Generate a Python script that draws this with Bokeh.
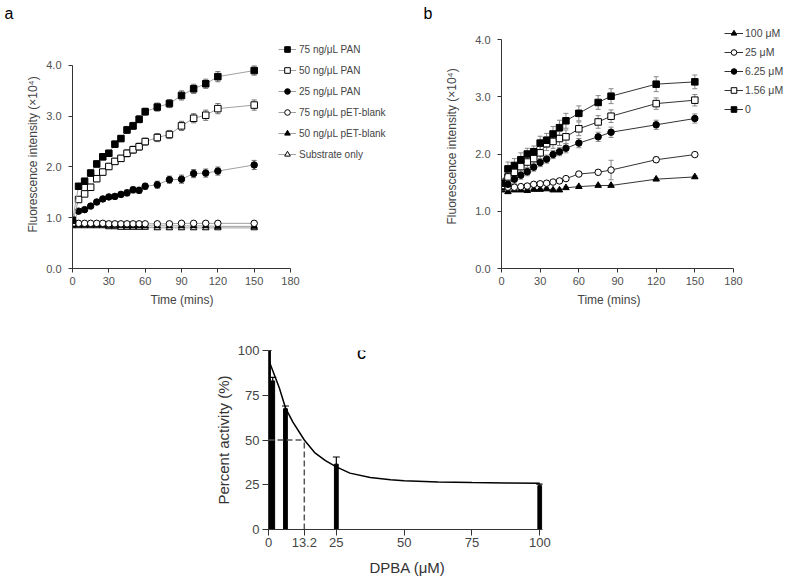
import math
from bokeh.plotting import figure
from bokeh.models import (ColumnDataSource, Whisker, TeeHead, Legend, LegendItem,
                          Label, FixedTicker, PrintfTickFormatter, Range1d, Title)
from bokeh.layouts import row, column
from bokeh.embed import file_html
from bokeh.resources import INLINE

FONT = "Liberation Sans"

# ---------------- Panel a data ----------------
time_a = [0, 5, 10, 15, 20, 25, 30, 35, 40, 45, 50, 55, 60, 70, 80, 90, 100, 110, 120, 150]
pan75 = [0.95, 1.62, 1.72, 1.88, 2.06, 2.20, 2.27, 2.45, 2.56, 2.73, 2.81, 2.94, 3.09, 3.18, 3.25, 3.41, 3.54, 3.64, 3.78, 3.90]
pan75_err = [0.08, 0.05, 0.05, 0.06, 0.06, 0.06, 0.06, 0.06, 0.06, 0.07, 0.07, 0.07, 0.07, 0.08, 0.08, 0.09, 0.09, 0.09, 0.10, 0.09]
pan50 = [0.90, 1.36, 1.47, 1.60, 1.77, 1.90, 2.01, 2.11, 2.17, 2.27, 2.34, 2.40, 2.50, 2.58, 2.64, 2.81, 2.96, 3.02, 3.15, 3.22]
pan50_err = [0.06, 0.05, 0.05, 0.06, 0.06, 0.06, 0.06, 0.06, 0.06, 0.07, 0.07, 0.07, 0.07, 0.08, 0.08, 0.09, 0.09, 0.10, 0.10, 0.10]
pan25 = [0.87, 1.13, 1.16, 1.23, 1.31, 1.37, 1.41, 1.42, 1.46, 1.49, 1.55, 1.54, 1.62, 1.65, 1.75, 1.76, 1.87, 1.88, 1.92, 2.04]
pan25_err = [0.05, 0.04, 0.04, 0.04, 0.05, 0.05, 0.05, 0.05, 0.05, 0.06, 0.06, 0.06, 0.06, 0.07, 0.07, 0.08, 0.08, 0.08, 0.08, 0.09]
pet75 = [0.90, 0.89, 0.89, 0.89, 0.89, 0.89, 0.88, 0.88, 0.88, 0.88, 0.88, 0.88, 0.88, 0.88, 0.88, 0.89, 0.89, 0.89, 0.89, 0.89]
pet75_err = [0.04] * 20
pet50 = [0.86, 0.86, 0.86, 0.86, 0.86, 0.86, 0.85, 0.85, 0.85, 0.84, 0.84, 0.84, 0.84, 0.84, 0.84, 0.84, 0.84, 0.84, 0.83, 0.83]
pet50_err = [0.03] * 20
substrate = [0.84, 0.84, 0.84, 0.84, 0.84, 0.84, 0.82, 0.82, 0.81, 0.81, 0.81, 0.81, 0.81, 0.80, 0.80, 0.80, 0.80, 0.80, 0.80, 0.80]
substrate_err = [0.03] * 20
labels_a = ["75 ng/μL PAN", "50 ng/μL PAN", "25 ng/μL PAN",
            "75 ng/μL pET-blank", "50 ng/μL pET-blank", "Substrate only"]

# ---------------- Panel b data ----------------
time_b = [0, 5, 10, 15, 20, 25, 30, 35, 40, 45, 50, 60, 75, 85, 120, 150]
dpba_0 = [1.49, 1.74, 1.80, 1.90, 2.00, 2.04, 2.19, 2.24, 2.35, 2.46, 2.58, 2.71, 2.90, 3.01, 3.22, 3.26]
dpba_0_err = [0.08, 0.12, 0.12, 0.12, 0.10, 0.10, 0.12, 0.12, 0.13, 0.13, 0.13, 0.13, 0.12, 0.13, 0.13, 0.12]
dpba_156 = [1.45, 1.60, 1.68, 1.78, 1.86, 1.92, 2.02, 2.18, 2.22, 2.27, 2.30, 2.44, 2.56, 2.66, 2.88, 2.94]
dpba_156_err = [0.07, 0.10, 0.10, 0.11, 0.11, 0.11, 0.12, 0.12, 0.12, 0.12, 0.12, 0.12, 0.11, 0.11, 0.10, 0.10]
dpba_625 = [1.42, 1.47, 1.56, 1.63, 1.69, 1.77, 1.85, 1.91, 1.99, 2.04, 2.10, 2.19, 2.30, 2.38, 2.51, 2.62]
dpba_625_err = [0.05, 0.06, 0.07, 0.07, 0.07, 0.07, 0.07, 0.07, 0.07, 0.07, 0.08, 0.08, 0.08, 0.09, 0.08, 0.08]
dpba_25 = [1.40, 1.42, 1.42, 1.43, 1.44, 1.47, 1.48, 1.49, 1.51, 1.53, 1.57, 1.65, 1.68, 1.72, 1.90, 1.99]
dpba_25_err = [0.03, 0.03, 0.03, 0.03, 0.03, 0.03, 0.03, 0.03, 0.03, 0.03, 0.03, 0.03, 0.04, 0.17, 0.05, 0.03]
dpba_100 = [1.37, 1.34, 1.37, 1.37, 1.36, 1.38, 1.38, 1.39, 1.37, 1.37, 1.41, 1.43, 1.45, 1.45, 1.56, 1.60]
dpba_100_err = [0.02] * 16
labels_b = ["100 μM", "25 μM", "6.25 μM", "1.56 μM", "0"]

# ---------------- Panel c data ----------------
conc = [0, 1.56, 6.25, 25, 100]
activity = [100, 83, 67.5, 36.5, 24.5]
activity_err = [0, 2.0, 1.5, 4.0, 0.8]
curve_x = [0, 2, 4, 6.25, 9, 13.2, 17, 21, 25, 30, 37.5, 45, 50, 62.5, 75, 87.5, 100]
curve_y = [95, 87, 79, 68, 60, 50, 43, 38.5, 35, 31.5, 29, 27.8, 27.3, 26.5, 26.2, 26, 25.8]
ic50 = 13.2
half_activity = 50
c_xticks = [0, 13.2, 25, 50, 75, 100]
c_yticks = [0, 25, 50, 75, 100]
time_ticks = [0, 30, 60, 90, 120, 150, 180]
fluor_ticks = [0, 1, 2, 3, 4]
panel_letters = ["a", "b", "c"]

TICK_COLOR = "#505050"
AXIS_COLOR = "#333333"
LABEL_COLOR = "#444444"


def style_axes(p, tick_size="11px", label_size="12px", tick_out=4, x_standoff=4, y_standoff=7):
    for ax in (p.xaxis[0], p.yaxis[0]):
        ax.axis_line_color = AXIS_COLOR
        ax.major_tick_line_color = AXIS_COLOR
        ax.minor_tick_line_color = None
        ax.major_tick_in = 0
        ax.major_tick_out = tick_out
        ax.major_label_text_font = FONT
        ax.major_label_text_font_size = tick_size
        ax.major_label_text_color = TICK_COLOR
        ax.axis_label_text_font = FONT
        ax.axis_label_text_font_size = label_size
        ax.axis_label_text_font_style = "normal"
        ax.axis_label_text_color = LABEL_COLOR
    p.xaxis[0].major_label_standoff = x_standoff
    p.yaxis[0].major_label_standoff = y_standoff
    p.xgrid.visible = False
    p.ygrid.visible = False
    p.outline_line_color = None


def side_title(p, text, place, offset, size, standoff=0, color=LABEL_COLOR, valign="bottom"):
    t = Title(text=text, align="left", offset=offset, standoff=standoff,
              text_font=FONT, text_font_size=size, text_font_style="normal",
              text_color=color, vertical_align=valign)
    p.add_layout(t, place)


def add_series(p, x, y, err, marker, fill, line_color, err_color, size):
    src = ColumnDataSource(dict(x=x, y=y,
                                lo=[a - e for a, e in zip(y, err)],
                                hi=[a + e for a, e in zip(y, err)]))
    w = Whisker(source=src, base="x", lower="lo", upper="hi", dimension="height",
                line_color=err_color, line_width=1,
                upper_head=TeeHead(size=5, line_color=err_color, line_width=1),
                lower_head=TeeHead(size=5, line_color=err_color, line_width=1))
    p.add_layout(w)
    ln = p.line("x", "y", source=src, line_color=line_color, line_width=1)
    sc = p.scatter("x", "y", source=src, marker=marker, size=size,
                   fill_color=fill, line_color="black", line_width=1)
    return ln, sc


LETTER_H = 22
TOP_H = 301

# ---------------- strip with panel letters a / b ----------------
pl = figure(width=787, height=LETTER_H, x_range=Range1d(0, 787), y_range=Range1d(0, LETTER_H),
            output_backend="svg", toolbar_location=None,
            x_axis_location=None, y_axis_location=None,
            min_border_left=0, min_border_right=0, min_border_top=0, min_border_bottom=0)
pl.xgrid.visible = False
pl.ygrid.visible = False
pl.outline_line_color = None
for letter, lx, ly in zip(panel_letters[:2], [4, 423], [9.5, 9.5]):
    pl.add_layout(Label(x=lx, y=ly, text=letter, text_align="left", text_baseline="middle",
                        text_font=FONT, text_font_size="16px", text_font_style="normal",
                        text_color="black"))

# ---------------- Figure a ----------------
pa = figure(width=420, height=TOP_H, x_range=Range1d(0, 287.3), y_range=Range1d(0, 4.847),
            output_backend="svg", toolbar_location=None,
            min_border_left=72, min_border_right=0, min_border_top=0, min_border_bottom=55)
style_axes(pa)
pa.xaxis.ticker = FixedTicker(ticks=time_ticks)
pa.yaxis.ticker = FixedTicker(ticks=fluor_ticks)
pa.xaxis.bounds = (time_ticks[0], time_ticks[-1])
pa.yaxis.bounds = (fluor_ticks[0], fluor_ticks[-1])
pa.yaxis.formatter = PrintfTickFormatter(format="%.1f")

GA = "#a0a0a0"
EA = "#707070"
series_a = [
    (pan75, pan75_err, "square", "black"),
    (pan50, pan50_err, "square", "white"),
    (pan25, pan25_err, "circle", "black"),
    (pet75, pet75_err, "circle", "white"),
    (pet50, pet50_err, "triangle", "black"),
    (substrate, substrate_err, "triangle", "white"),
]
rend_a = []
for (vals, errs, mk, fill) in reversed(series_a):
    rend_a.append(add_series(pa, time_a, vals, errs, mk, fill, GA, EA, 6.5))
rend_a = list(reversed(rend_a))
items_a = [LegendItem(label=lab, renderers=[ln, sc]) for lab, (ln, sc) in zip(labels_a, rend_a)]
leg_a = Legend(items=items_a, location=(206, 107), padding=0, margin=0, spacing=7,
               glyph_width=18, glyph_height=14, label_height=14, label_standoff=3,
               label_text_font=FONT, label_text_font_size="10px", label_text_color=LABEL_COLOR,
               border_line_color=None, background_fill_alpha=0)
pa.add_layout(leg_a)
side_title(pa, "Fluorescence intensity (×10⁴)", "left", 36, "12px", standoff=8)
side_title(pa, "Time (mins)", "below", 78, "12px", standoff=6)

# ---------------- Figure b ----------------
pb = figure(width=367, height=TOP_H, x_range=Range1d(0, 221.9), y_range=Range1d(0, 4.297),
            output_backend="svg", toolbar_location=None,
            min_border_left=81, min_border_right=0, min_border_top=0, min_border_bottom=55)
style_axes(pb)
pb.xaxis.ticker = FixedTicker(ticks=time_ticks)
pb.yaxis.ticker = FixedTicker(ticks=fluor_ticks)
pb.xaxis.bounds = (time_ticks[0], time_ticks[-1])
pb.yaxis.bounds = (fluor_ticks[0], fluor_ticks[-1])
pb.yaxis.formatter = PrintfTickFormatter(format="%.1f")

GB = "#333333"
EB = "#888888"
series_b = [
    (dpba_100, dpba_100_err, "triangle", "black"),
    (dpba_25, dpba_25_err, "circle", "white"),
    (dpba_625, dpba_625_err, "circle", "black"),
    (dpba_156, dpba_156_err, "square", "white"),
    (dpba_0, dpba_0_err, "square", "black"),
]
rend_b = []
for (vals, errs, mk, fill) in series_b:
    rend_b.append(add_series(pb, time_b, vals, errs, mk, fill, GB, EB, 6.5))
items_b = [LegendItem(label=lab, renderers=[ln, sc]) for lab, (ln, sc) in zip(labels_b, rend_b)]
leg_b = Legend(items=items_b, location=(223, 152), padding=0, margin=0, spacing=5,
               glyph_width=19, glyph_height=14, label_height=14, label_standoff=2,
               label_text_font=FONT, label_text_font_size="10.5px", label_text_color=LABEL_COLOR,
               border_line_color=None, background_fill_alpha=0)
pb.add_layout(leg_b)
side_title(pb, "Fluorescence intensity (×10⁴)", "left", 44, "12px", standoff=28)
side_title(pb, "Time (mins)", "below", 76, "12px", standoff=6)

# ---------------- Figure c ----------------
pc = figure(width=787, height=262, x_range=Range1d(0, 101), y_range=Range1d(0, 100),
            output_backend="svg", toolbar_location=None,
            min_border_left=268, min_border_right=245, min_border_top=27, min_border_bottom=56)
style_axes(pc, tick_size="13px", label_size="15px", tick_out=6, x_standoff=2, y_standoff=3)
pc.xaxis.ticker = FixedTicker(ticks=c_xticks)
pc.xaxis.major_label_overrides = {t: ("%g" % t) for t in c_xticks}
pc.yaxis.ticker = FixedTicker(ticks=c_yticks)
pc.yaxis.axis_label = "Percent activity (%)"
pc.yaxis.axis_label_standoff = 3
pc.yaxis.axis_label_text_color = "#333333"
pc.xaxis.major_label_text_color = "#444444"
pc.yaxis.major_label_text_color = "#444444"
side_title(pc, "DPBA (μM)", "below", 101, "15px", standoff=14, color="#333333")

csrc = ColumnDataSource(dict(x=conc, top=activity,
                             hi=[a + e for a, e in zip(activity, activity_err)]))
pc.vbar(x="x", top="top", width=1.4, source=csrc, fill_color="black", line_color="black")
pc.add_layout(Whisker(source=csrc, base="x", lower="top", upper="hi", dimension="height",
                      line_color="black", line_width=1.2,
                      upper_head=TeeHead(size=7, line_color="black", line_width=1.2),
                      lower_head=None))
pc.line(curve_x, curve_y, line_color="black", line_width=1.5)
pc.line([0, ic50], [half_activity, half_activity], line_color="#555555", line_width=1.5, line_dash="6 3")
pc.line([ic50, ic50], [0, half_activity], line_color="#555555", line_width=1.5, line_dash="6 3")
pc.add_layout(Label(x=34.3, y=98.6, text=panel_letters[2], text_align="center", text_baseline="middle",
                    text_font=FONT, text_font_size="18px", text_font_style="normal",
                    text_color="black"))

layout = column(row(pl), row(pa, pb), row(pc))
open("out.html", "w").write(file_html(layout, INLINE))
